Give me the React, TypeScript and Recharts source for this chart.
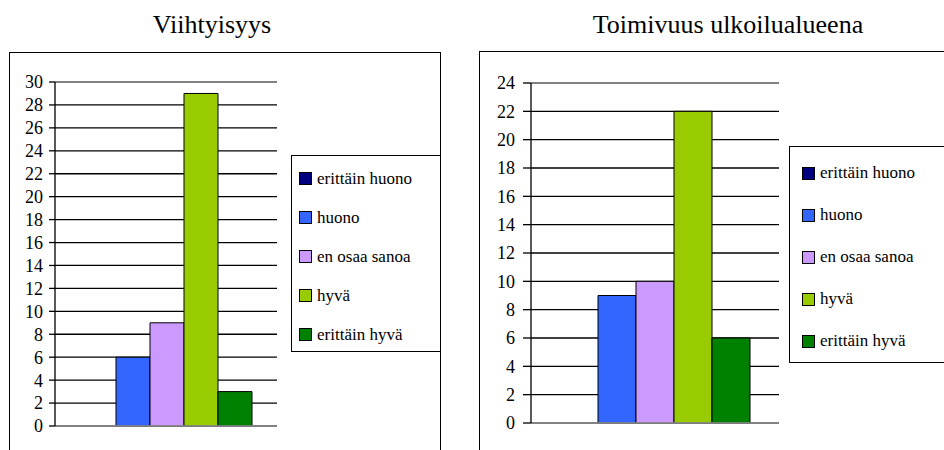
import { BarChart, Bar, XAxis, YAxis, CartesianGrid, Legend, ReferenceLine } from 'recharts'

const categories = ['erittäin huono', 'huono', 'en osaa sanoa', 'hyvä', 'erittäin hyvä']
const colors = ['#000080', '#3366FF', '#CC99FF', '#99CC00', '#008000']

const viihtyisyys = [0, 6, 9, 29, 3]
const toimivuus = [0, 9, 10, 22, 6]

const ticksLeft = [0, 2, 4, 6, 8, 10, 12, 14, 16, 18, 20, 22, 24, 26, 28, 30]
const ticksRight = [0, 2, 4, 6, 8, 10, 12, 14, 16, 18, 20, 22, 24]

const FONT = 'Liberation Serif, DejaVu Serif, Times New Roman, serif'

function toRow(values: number[]) {
  const row: Record<string, any> = { name: '' }
  categories.forEach((c, i) => {
    row[c] = values[i]
  })
  return [row]
}

interface LegendSpec {
  left: number
  top: number
  width: number
  height: number
  gap: number
  padTop: number
  padLeft: number
}

function LegendBox({ spec }: { spec: LegendSpec }) {
  return (
    <div
      style={{
        boxSizing: 'border-box',
        width: spec.width,
        height: spec.height,
        border: '1px solid #000',
        background: '#fff',
        paddingTop: spec.padTop,
        paddingLeft: spec.padLeft,
        fontFamily: FONT,
        fontSize: 17,
        color: '#000',
        whiteSpace: 'nowrap',
      }}
    >
      {categories.map((c, i) => (
        <div key={c} style={{ display: 'flex', alignItems: 'center', height: spec.gap }}>
          <span
            style={{
              display: 'inline-block',
              width: 11,
              height: 11,
              background: colors[i],
              border: '1px solid #000',
              marginRight: 5,
            }}
          />
          <span>{c}</span>
        </div>
      ))}
    </div>
  )
}

interface PanelProps {
  title: string
  values: number[]
  ticks: number[]
  box: { left: number; top: number; width: number }
  titleCenter: number
  chart: { width: number; height: number; margin: any; axisWidth: number; tickSize: number; tickMargin: number; gap: number }
  legend: LegendSpec
}

function Panel({ title, values, ticks, box, titleCenter, chart, legend }: PanelProps) {
  const max = ticks[ticks.length - 1]
  return (
    <>
      <div
        style={{
          position: 'absolute',
          left: titleCenter - 250,
          width: 500,
          top: 12,
          textAlign: 'center',
          fontFamily: FONT,
          fontSize: 26,
          lineHeight: '26px',
          color: '#000',
        }}
      >
        {title}
      </div>
      <div
        style={{
          position: 'absolute',
          boxSizing: 'border-box',
          left: box.left,
          top: box.top,
          width: box.width,
          height: 500,
          border: '1px solid #000',
        }}
      />
      <div style={{ position: 'absolute', left: box.left, top: box.top }}>
        <BarChart
          width={chart.width}
          height={chart.height}
          data={toRow(values)}
          margin={chart.margin}
          barGap={0}
          barCategoryGap={chart.gap}
        >
          <CartesianGrid vertical={false} stroke="#000" strokeWidth={1.3} />
          <XAxis dataKey="name" hide />
          <YAxis
            domain={[0, max]}
            ticks={ticks}
            interval={0}
            width={chart.axisWidth}
            axisLine={{ stroke: '#000', strokeWidth: 1.3 }}
            tickLine={{ stroke: '#000', strokeWidth: 1.3 }}
            tickSize={chart.tickSize}
            tickMargin={chart.tickMargin}
            tick={{ fill: '#000', fontSize: 18, fontFamily: FONT }}
          />
          <YAxis yAxisId="border" orientation="right" width={0} tick={false} tickLine={false} axisLine={{ stroke: '#999', strokeWidth: 1.3 }} />
          <ReferenceLine y={max} stroke="#999" strokeWidth={1.3} />
          <ReferenceLine y={0} stroke="#999" strokeWidth={1.3} />
          {categories.map((c, i) => (
            <Bar key={c} dataKey={c} fill={colors[i]} stroke="#000" strokeWidth={1} isAnimationActive={false} />
          ))}
          <Legend
            layout="vertical"
            align="center"
            verticalAlign="middle"
            wrapperStyle={{ left: legend.left, top: legend.top, width: legend.width, height: legend.height }}
            content={() => <LegendBox spec={legend} />}
          />
        </BarChart>
      </div>
    </>
  )
}

export default function App() {
  return (
    <div
      style={{
        position: 'absolute',
        left: 0,
        top: 0,
        width: 944,
        height: 450,
        overflow: 'hidden',
        background: '#fff',
      }}
    >
      <Panel
        title="Viihtyisyys"
        values={viihtyisyys}
        ticks={ticksLeft}
        box={{ left: 9, top: 52, width: 432 }}
        titleCenter={212}
        chart={{ width: 431, height: 398, margin: { top: 30, right: 163, bottom: 24, left: 0 }, axisWidth: 46, tickSize: 6, tickMargin: 6, gap: 27 }}
        legend={{ left: 282, top: 103, width: 150, height: 197, gap: 39, padTop: 3, padLeft: 7 }}
      />
      <Panel
        title="Toimivuus ulkoilualueena"
        values={toimivuus}
        ticks={ticksRight}
        box={{ left: 479, top: 51, width: 600 }}
        titleCenter={728}
        chart={{ width: 465, height: 399, margin: { top: 32, right: 165, bottom: 27, left: 0 }, axisWidth: 52, tickSize: 8, tickMargin: 8, gap: 29 }}
        legend={{ left: 310, top: 95, width: 200, height: 217, gap: 42, padTop: 5, padLeft: 12 }}
      />
    </div>
  )
}
